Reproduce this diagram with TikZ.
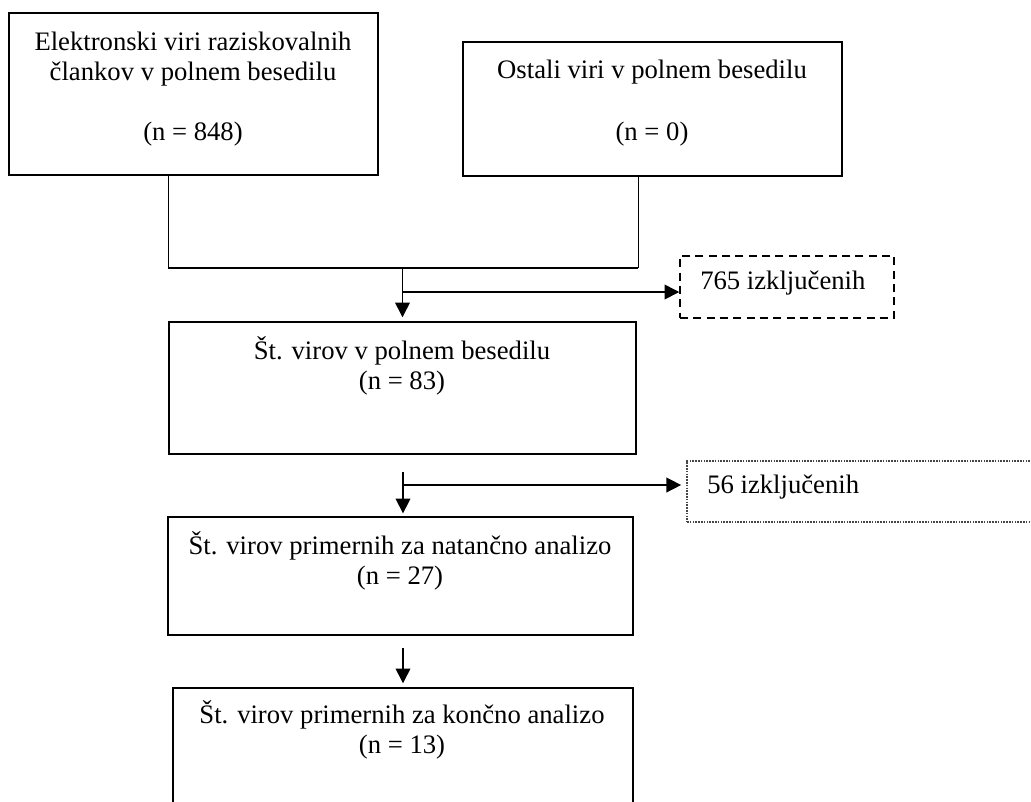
\documentclass[tikz,border=0pt]{standalone}
\usepackage{fontspec}
\setmainfont{Liberation Serif}
\usetikzlibrary{arrows.meta,positioning,fit}
\definecolor{ink}{RGB}{0,0,0}
\definecolor{dotgrey}{RGB}{70,70,70}

\begin{document}
\begin{tikzpicture}[x=0.75pt,y=-0.75pt,font={\fontsize{20}{22.5}\selectfont},
 >={Triangle[length=11pt,width=11pt]},
 box/.style={draw=ink,line width=1.1pt,inner sep=0pt},
 txt/.style={align=center,inner sep=0pt},
 arr/.style={->,draw=ink,line width=1.1pt}]
 \useasboundingbox (0,0) rectangle (1031,801);
 \clip (0,0) rectangle (1031,801);
 % source boxes
 \node[box,fit={(9,13) (378,175)}] (src1) {};
 \node[txt] (src1t) at (193,89) {Elektronski viri raziskovalnih\\člankov v polnem besedilu\\[22.5pt](n = 848)};
 \node[box,fit={(463,42) (842,176)}] (src2) {};
 \node[txt] (src2t) at (652,103) {Ostali viri v polnem besedilu\\[24pt](n = 0)};
 % joining lines
 \coordinate (j1) at (168,268);
 \coordinate (j2) at (638,268);
 \draw[ink,line width=0.75pt] (src1.south -| j1) -- (j1);
 \draw[ink,line width=0.75pt] (src2.south -| j2) -- (j2);
 \draw[ink,line width=1.5pt] (j1) -- (j2);
 % full text
 \node[box,fit={(169,322) (636,454)}] (full) {};
 \node[txt] (fullt) at (402,366) {Št. virov v polnem besedilu\\(n = 83)};
 \draw[arr,shorten >=3pt] (j1 -| full.north) -- (full.north);
 % first exclusion
 \node[box,dash pattern=on 6pt off 4pt,line width=1.1pt,fit={(680,256) (894,318)}] (ex1) {};
 \node[txt,anchor=west] (ex1t) at (700,283) {765 izključenih};
 \coordinate (b1) at (403,292);
 \draw[arr] (b1) -- (b1 -| ex1.west);
 % detailed analysis
 \node[box,fit={(168,517) (633,635)}] (anal) {};
 \node[txt] (analt) at (400,561) {Št. virov primernih za natančno analizo\\(n = 27)};
 \coordinate (a2) at (403,472);
 \draw[arr,shorten >=2.2pt] (a2) -- (a2 |- anal.north);
 % second exclusion
 \node[box,draw=dotgrey,dash pattern=on 1.2pt off 0.9pt,line width=0.8pt,fit={(687,461) (1045,522)}] (ex2) {};
 \node[txt,anchor=west] (ex2t) at (707,487) {56 izključenih};
 \coordinate (b2) at (403,485);
 \draw[arr,shorten >=4pt] (b2) -- (b2 -| ex2.west);
 % final analysis
 \node[box,fit={(173,688) (633,815)}] (final) {};
 \node[txt] (finalt) at (402,730) {Št. virov primernih za končno analizo\\(n = 13)};
 \coordinate (a3) at (403,648);
 \draw[arr,shorten >=3pt] (a3) -- (a3 |- final.north);
\end{tikzpicture}
\end{document}
